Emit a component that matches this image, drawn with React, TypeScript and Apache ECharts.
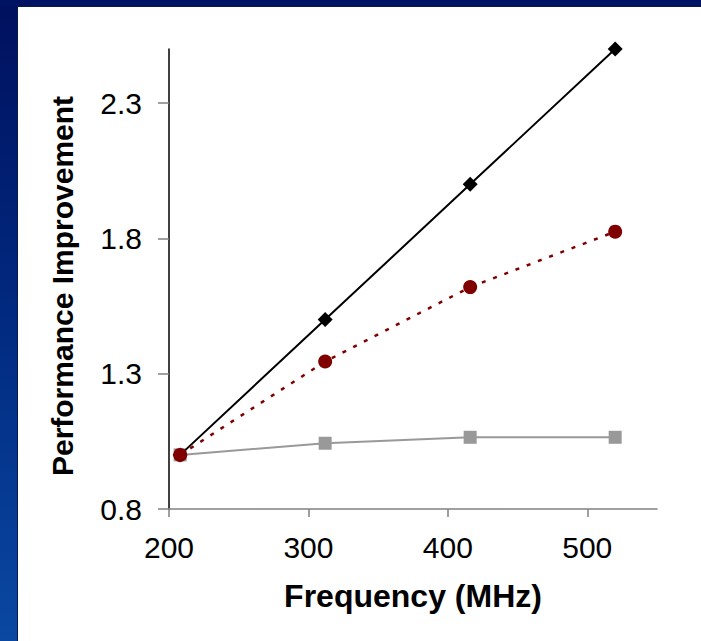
import React, { useEffect, useRef } from "react";
import * as echarts from "echarts";

const frequencies = [208, 312, 416, 520];
const idealSpeedup = [1.0, 1.5, 2.0, 2.5];
const measuredSpeedup = [1.0, 1.345, 1.62, 1.825];
const baselineSpeedup = [1.0, 1.043, 1.065, 1.065];
const xTicks = [200, 300, 400, 500];
const yTicks = [0.8, 1.3, 1.8, 2.3];

const FONT = "'Liberation Sans', Arial, sans-serif";

export default function App() {
  const ref = useRef<HTMLDivElement>(null);
  useEffect(() => {
    document.body.style.margin = "0";
    if (!ref.current) return;
    const chart = echarts.init(ref.current, undefined, { renderer: "svg" });
    const pair = (ys: number[]) => frequencies.map((f, i) => [f, ys[i]]);
    chart.setOption({
      animation: false,
      textStyle: { fontFamily: FONT },
      grid: { left: 169, right: 44, top: 49, bottom: 132, containLabel: false },
      xAxis: {
        type: "value",
        min: 200,
        max: 550,
        name: "Frequency (MHz)",
        nameLocation: "middle",
        nameGap: 71,
        nameTextStyle: { fontSize: 32, fontWeight: "bold", color: "#000", fontFamily: FONT },
        axisLine: { show: true, lineStyle: { color: "#808080", width: 1.5 } },
        axisTick: { show: true, length: 8, customValues: xTicks, lineStyle: { color: "#808080", width: 1.5 } },
        axisLabel: { customValues: xTicks, fontSize: 30, color: "#000", margin: 23, fontFamily: FONT },
        splitLine: { show: false },
      },
      yAxis: {
        type: "value",
        min: 0.8,
        max: 2.5,
        name: "Performance Improvement",
        nameLocation: "middle",
        nameGap: 92,
        nameTextStyle: {
          fontSize: 30,
          fontWeight: "bold",
          color: "#000",
          fontFamily: FONT,
          padding: [0, 14, 0, 0],
        },
        axisLine: { show: true, lineStyle: { color: "#000", width: 1.5 } },
        axisTick: { show: true, length: 11, customValues: yTicks, lineStyle: { color: "#808080", width: 1.5 } },
        axisLabel: {
          customValues: yTicks,
          fontSize: 30,
          color: "#000",
          margin: 27,
          fontFamily: FONT,
          formatter: (v: number) => v.toFixed(1),
        },
        splitLine: { show: false },
      },
      series: [
        {
          name: "Baseline",
          type: "line",
          data: pair(baselineSpeedup),
          symbol: "rect",
          symbolSize: 13,
          itemStyle: { color: "#999999" },
          lineStyle: { color: "#999999", width: 2 },
          z: 2,
        },
        {
          name: "Ideal",
          type: "line",
          data: pair(idealSpeedup),
          symbol: "diamond",
          symbolSize: 15,
          itemStyle: { color: "#000000" },
          lineStyle: { color: "#000000", width: 2 },
          z: 3,
        },
        {
          name: "Measured",
          type: "line",
          data: pair(measuredSpeedup),
          symbol: "circle",
          symbolSize: 14,
          itemStyle: { color: "#800000" },
          lineStyle: { color: "#800000", width: 2.5, type: [4, 8] },
          z: 4,
        },
      ],
    });
    return () => chart.dispose();
  }, []);

  return (
    <div
      style={{
        position: "absolute",
        left: 0,
        top: 0,
        width: 701,
        height: 641,
        background: "linear-gradient(to bottom, #00105e 0%, #012a80 50%, #0a48a2 100%)",
        overflow: "hidden",
      }}
    >
      <div style={{ position: "absolute", left: 0, top: 0, width: 701, height: 6, background: "#001262" }} />
      <div
        style={{
          position: "absolute",
          left: 17,
          top: 6,
          width: 684,
          height: 635,
          background: "#ffffff",
          borderLeft: "1px solid #0a1a50",
          borderTop: "1px solid #0a1a50",
          boxSizing: "border-box",
        }}
      />
      <div ref={ref} style={{ position: "absolute", left: 0, top: 0, width: 701, height: 641 }} />
    </div>
  );
}
